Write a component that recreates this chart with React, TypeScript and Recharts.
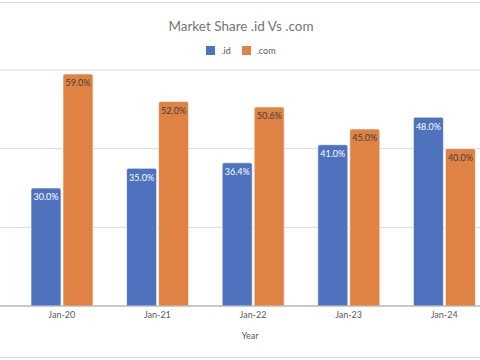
import React from 'react';
import { BarChart, Bar, XAxis, YAxis, CartesianGrid, Legend, LabelList, Label } from 'recharts';

const categories = ['Jan-20', 'Jan-21', 'Jan-22', 'Jan-23', 'Jan-24'];
const idShare = [30.0, 35.0, 36.4, 41.0, 48.0];
const comShare = [59.0, 52.0, 50.6, 45.0, 40.0];
const seriesNames = ['.id', '.com'];
const yTicks = [0, 20, 40, 60];

const data = categories.map((c, i) => ({ year: c, id: idShare[i], com: comShare[i] }));

const FONT = 'Lato, "Open Sans", sans-serif';
const fmt = (v: any) => `${Number(v).toFixed(1)}%`;

const LegendContent = (props: any) => {
  const payload = [...(props.payload || [])].sort(
    (a: any, b: any) => seriesNames.indexOf(a.value) - seriesNames.indexOf(b.value)
  );
  return (
    <div style={{ display: 'flex', justifyContent: 'center', alignItems: 'center', fontFamily: FONT, fontSize: 9, color: '#595959' }}>
      {payload.map((p: any, i: number) => (
        <div key={i} style={{ display: 'flex', alignItems: 'center', marginLeft: i === 0 ? 0 : 11 }}>
          <span style={{ width: 9, height: 9, background: p.color, display: 'inline-block', marginRight: 6 }} />
          <span>{p.value}</span>
        </div>
      ))}
    </div>
  );
};

export default function App() {
  return (
    <div style={{ position: 'absolute', left: 0, top: 0, width: 480, height: 360, overflow: 'hidden', background: '#fff' }}>
      <div style={{ position: 'absolute', left: 0, top: 2, width: 480, height: 354, borderTop: '1px solid #d9d9d9', borderBottom: '1px solid #d9d9d9' }} />
      <div style={{ position: 'absolute', left: 0, top: 18, width: 482, textAlign: 'center', fontFamily: FONT, fontSize: 13.5, color: '#757575' }}>
        Market Share .id Vs .com
      </div>
      <div style={{ position: 'absolute', left: 0, top: 0 }}>
        <BarChart width={500} height={360} data={data} margin={{ top: 70, right: 0, bottom: 0, left: 0 }} barSize={30} barGap={2}>
          <CartesianGrid vertical={false} stroke="#d9d9d9" />
          <YAxis hide domain={[0, 60]} ticks={yTicks} />
          <XAxis dataKey="year" height={54} padding={{ left: 14, right: 8 }} tickLine={false} tickSize={0} tickMargin={6}
            axisLine={{ stroke: '#a6a6a6' }} tick={{ fontSize: 9, fill: '#595959', fontFamily: FONT }} interval={0}>
            <Label value="Year" position="insideBottom" offset={21} style={{ fontSize: 9, fill: '#595959', fontFamily: FONT }} />
          </XAxis>
          <Legend verticalAlign="middle" align="center" layout="horizontal" content={<LegendContent />}
            wrapperStyle={{ top: 45, left: 0, width: 482, height: 12 }} />
          <Bar dataKey="id" name=".id" fill="#4e72be" stroke="#ffffff" strokeOpacity={0.6} radius={[2, 2, 0, 0]} isAnimationActive={false}>
            <LabelList dataKey="id" position="insideTop" offset={6} formatter={fmt} style={{ fontSize: 9, fill: '#ffffff', fontFamily: FONT }} />
          </Bar>
          <Bar dataKey="com" name=".com" fill="#df8244" stroke="#ffffff" strokeOpacity={0.6} radius={[2, 2, 0, 0]} isAnimationActive={false}>
            <LabelList dataKey="com" position="insideTop" offset={6} formatter={fmt} style={{ fontSize: 9, fill: '#404040', fontFamily: FONT }} />
          </Bar>
        </BarChart>
      </div>
    </div>
  );
}
